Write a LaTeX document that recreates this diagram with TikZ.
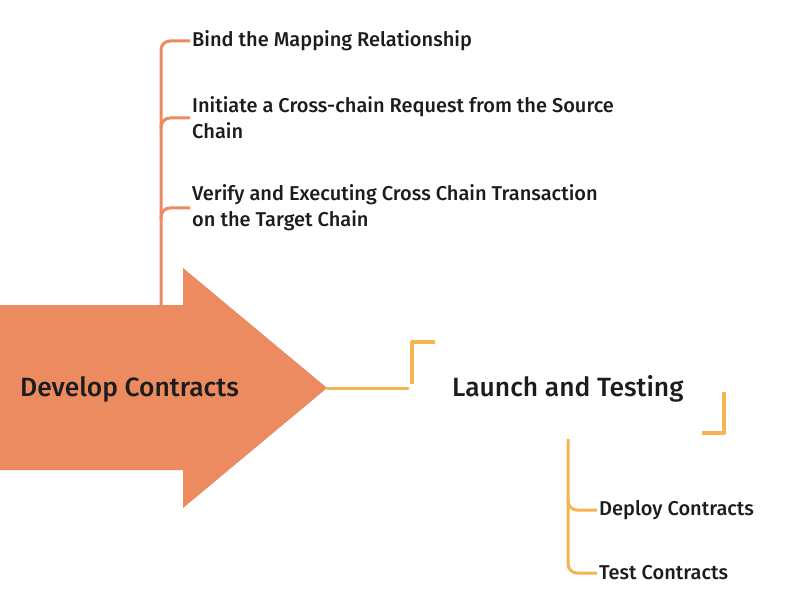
\documentclass[tikz,border=0pt]{standalone}
\usepackage{fontspec}
\setmainfont{Fira Sans}[UprightFont=* Medium]
\definecolor{devorange}{HTML}{EC8A60}
\definecolor{launchyellow}{HTML}{F5B351}
\definecolor{labeltext}{HTML}{1C1C1C}
\begin{document}
\begin{tikzpicture}[x=1pt,y=-1pt,line join=round,
  branchlbl/.style={anchor=west,inner sep=2pt,text=labeltext,font=\fontsize{20}{26}\selectfont,align=left},
  headlbl/.style={anchor=west,inner sep=0pt,text=labeltext,font=\fontsize{26.4}{30}\selectfont},
  devline/.style={draw=devorange,line width=3pt,rounded corners=9pt},
  launchline/.style={draw=launchyellow,line width=3pt,rounded corners=9pt},
  bracket/.style={draw=launchyellow,line width=4pt}]
  % Keep the artwork frame.
  \useasboundingbox (0,0) rectangle (790,596);

  % Big arrow for the first phase.
  \fill[devorange] (0,305) -- (183,305) -- (183,268) -- (327,388) -- (183,508) -- (183,470) -- (0,470) -- cycle;
  \coordinate (tip) at (327,388);
  \coordinate (stem) at (161,305);
  \node[headlbl] (dev) at (20,389) {Develop Contracts};

  % Steps of the first phase.
  \node[branchlbl] (bind) at (190,41) {Bind the Mapping Relationship};
  \node[branchlbl] (init) at (190,118) {Initiate a Cross-chain Request from the Source\\Chain};
  \node[branchlbl] (verify) at (190,208) {Verify and Executing Cross Chain Transaction\\on the Target Chain};
  \draw[devline] (stem) |- (bind.west);
  \draw[devline] (161,129) |- (init.west);
  \draw[devline] (161,219) |- (verify.west);

  % Second phase with its corner brackets.
  \node[headlbl] (launch) at (452,389) {Launch and Testing};
  \coordinate (brackL) at (408,388);
  \draw[draw=launchyellow,line width=3pt,line cap=round] (tip) -- (brackL);
  \draw[bracket] (412,384) -- (412,342) -- (435,342);
  \draw[bracket] (702,433) -- (724,433) -- (724,392);

  % Steps of the second phase.
  \coordinate (ytop) at (568,439);
  \node[branchlbl] (deploy) at (597,510) {Deploy Contracts};
  \node[branchlbl] (test) at (597,573) {Test Contracts};
  \draw[launchline] (ytop) |- (test.west);
  \draw[launchline] (568,499) |- (deploy.west);
\end{tikzpicture}
\end{document}
